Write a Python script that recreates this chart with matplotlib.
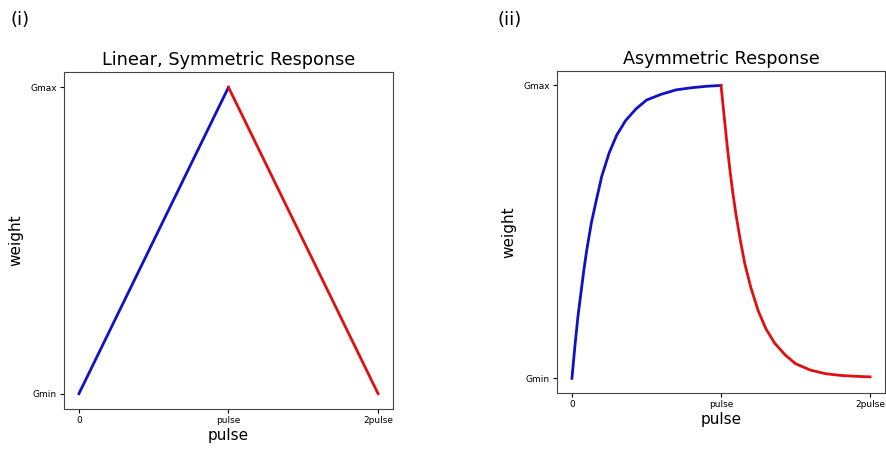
import numpy as np
import matplotlib
matplotlib.use("Agg")
import matplotlib.pyplot as plt

# weights normalised: 0 = Gmin, 1 = Gmax ; x in units of "pulse"
lin_up_x = [0, 1]
lin_up_y = [0, 1]
lin_down_x = [1, 2]
lin_down_y = [1, 0]

# asymmetric response, points
asym_up_x = [0, 0.02, 0.04, 0.06, 0.08, 0.10, 0.13, 0.16, 0.20, 0.25,
             0.30, 0.36, 0.43, 0.50, 0.60, 0.70, 0.80, 0.90, 1.0]
asym_up_y = [0, 0.11, 0.21, 0.29, 0.37, 0.44, 0.53, 0.60, 0.69, 0.77,
             0.83, 0.88, 0.92, 0.95, 0.97, 0.985, 0.992, 0.997, 1.0]
asym_down_x = [1.0, 1.02, 1.04, 1.06, 1.08, 1.10, 1.13, 1.16, 1.20, 1.25,
               1.30, 1.36, 1.43, 1.50, 1.60, 1.70, 1.80, 1.90, 2.0]
asym_down_y = [1.0, 0.90, 0.80, 0.71, 0.63, 0.56, 0.47, 0.39, 0.31, 0.23,
               0.17, 0.12, 0.08, 0.05, 0.028, 0.016, 0.010, 0.007, 0.005]

xticks = [0, 1, 2]
xticklabels = ["0", "pulse", "2pulse"]
yticks = [0, 1]
yticklabels = ["Gmin", "Gmax"]

fig = plt.figure(figsize=(8.86, 4.5), dpi=100)
ax1 = fig.add_axes([0.0722, 0.0911, 0.3714, 0.749])
ax2 = fig.add_axes([0.6287, 0.1267, 0.3702, 0.716])

def style(ax, title):
    ax.set_title(title, fontsize=12.7, pad=5)
    ax.set_xticks(xticks)
    ax.set_xticklabels(xticklabels)
    ax.set_yticks(yticks)
    ax.set_yticklabels(yticklabels)
    ax.tick_params(labelsize=6.5, length=3, pad=2)
    ax.set_xlabel("pulse", fontsize=11, labelpad=2)
    ax.set_ylabel("weight", fontsize=11, labelpad=5)
    ax.set_xlim(-0.1, 2.1)
    ax.set_ylim(-0.05, 1.05)
    for s in ax.spines.values():
        s.set_color("#444444")

ax1.plot(lin_up_x, lin_up_y, color="#1010c8", lw=2)
ax1.plot(lin_down_x, lin_down_y, color="#e01010", lw=2)
style(ax1, "Linear, Symmetric Response")

ax2.plot(asym_up_x, asym_up_y, color="#1010c8", lw=2, solid_joinstyle="round")
ax2.plot(asym_down_x, asym_down_y, color="#e01010", lw=2, solid_joinstyle="round")
style(ax2, "Asymmetric Response")

fig.text(0.012, 0.955, "(i)", fontsize=13, va="center")
fig.text(0.561, 0.955, "(ii)", fontsize=13, va="center")

fig.savefig("out.png", dpi=100)
